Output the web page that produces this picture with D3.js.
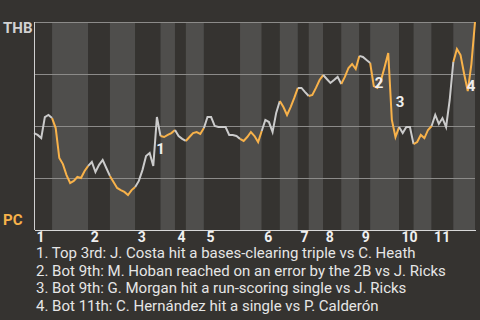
<!DOCTYPE html>
<html lang="en">
    <head>
        <meta charset="UTF-8">
        <title>THB vs PC - win probability</title>
        <script type="text/javascript" src="https://cdn.jsdelivr.net/npm/d3@7"></script>
        <style>
            html, body { margin: 0; padding: 0; background: #353330; }
            svg { display: block; }
        </style>
    </head>
    <body>
        <div id="chart"></div>
        <script type="text/javascript">
            // teams: top of chart, bottom of chart
            var TEAMS = ['THB', 'PC'];
            var INNINGS = ['1', '2', '3', '4', '5', '6', '7', '8', '9', '10', '11'];

            // plays in each half inning (top 1, bot 1, top 2, ...)
            var PLAYS_PER_HALF = [5, 10, 6, 7, 7, 4, 3, 5, 10, 6, 5, 5, 3, 4, 5, 5, 3, 8, 4, 5, 6, 6];

            // THB win probability (%) after each play
            var WIN_PROB = [
                46.6, 45.7, 44.2, 54.3, 55.3, 53.8, 49.0, 34.6, 31.7, 26.4,
                22.6, 23.6, 25.5, 25.0, 28.4, 30.8, 32.7, 27.9, 31.3, 33.7,
                29.8, 26.0, 23.1, 20.2, 19.2, 18.3, 16.8, 19.2, 20.7, 23.6,
                28.8, 35.6, 37.0, 30.8, 54.3, 45.2, 44.7, 45.7, 46.6, 48.1,
                45.2, 43.8, 42.8, 44.7, 46.6, 47.1, 46.2, 49.0, 54.3, 54.3,
                50.0, 49.5, 49.5, 49.5, 45.7, 45.7, 45.2, 43.8, 42.8, 44.7,
                47.1, 45.2, 42.3, 47.6, 52.9, 51.9, 47.1, 56.3, 62.0, 59.1,
                55.3, 59.1, 63.5, 68.3, 68.3, 66.3, 64.4, 64.9, 68.3, 72.1,
                74.5, 72.6, 70.7, 72.1, 73.6, 70.2, 73.6, 77.9, 79.8, 77.4,
                83.7, 83.2, 81.7, 80.3, 69.2, 68.3, 72.1, 78.4, 85.1, 52.9,
                44.7, 49.5, 46.6, 49.5, 49.5, 41.3, 42.3, 45.7, 44.2, 48.1,
                50.0, 55.3, 51.0, 53.8, 49.5, 62.5, 80.8, 87.0, 84.1, 75.0,
                66.8, 79.8, 100
            ];

            var GRID_TICKS = [25, 50, 75, 100];

            // key plays: play index and number shown on the chart
            var KEY_PLAYS = [33, 94, 99, 120];
            var KEY_LABELS = ['1', '2', '3', '4'];
            var KEY_TEXT = [
                '1. Top 3rd: J. Costa hit a bases-clearing triple vs C. Heath',
                '2. Bot 9th: M. Hoban reached on an error by the 2B vs J. Ricks',
                '3. Bot 9th: G. Morgan hit a run-scoring single vs J. Ricks',
                '4. Bot 11th: C. Hern\u00e1ndez hit a single vs P. Calder\u00f3n'
            ];

            var WIDTH = 480;
            var HEIGHT = 320;
            var GRAY = '#cbcbcb';
            var ORANGE = '#f8b24a';

            var svg = d3.select('#chart').append('svg')
                .attr('width', WIDTH)
                .attr('height', HEIGHT);

            svg.append('rect')
                .attr('width', WIDTH)
                .attr('height', HEIGHT)
                .attr('fill', '#353330');

            var x = d3.scaleLinear()
                .domain([0, WIN_PROB.length - 1])
                .range([34, 475]);

            var y = d3.scaleLinear()
                .domain([0, 100])
                .range([230, 22]);

            // half inning start / end play indexes
            var ends = Array.from(d3.cumsum(PLAYS_PER_HALF));
            var halves = PLAYS_PER_HALF.map(function (n, i) {
                return { i: i, start: i === 0 ? 0 : ends[i - 1], end: ends[i] };
            });

            // background bands
            svg.append('g').selectAll('rect')
                .data(halves)
                .join('rect')
                .attr('x', function (d) { return x(d.start); })
                .attr('width', function (d) { return x(d.end) - x(d.start); })
                .attr('y', y(100))
                .attr('height', y(0) - y(100))
                .attr('fill', function (d) { return d.i % 2 ? '#4f4e4c' : '#353330'; });

            // grid lines
            svg.append('g')
                .attr('transform', 'translate(' + x(0) + ',0)')
                .call(d3.axisRight(y).tickValues(GRID_TICKS).tickSize(x.range()[1] - x.range()[0]).tickFormat(''))
                .call(function (g) {
                    g.select('.domain').remove();
                    g.selectAll('line').attr('stroke', '#8c8b89').attr('stroke-width', 1)
                        .attr('shape-rendering', 'crispEdges');
                });

            // win probability line, one piece per half inning
            var line = d3.line()
                .x(function (d) { return x(d.i); })
                .y(function (d) { return y(d.v); });

            svg.append('g').selectAll('path')
                .data(halves)
                .join('path')
                .attr('d', function (h) {
                    var pts = [];
                    for (var k = h.start; k <= h.end; k++) {
                        pts.push({ i: k, v: WIN_PROB[k] });
                    }
                    return line(pts);
                })
                .attr('fill', 'none')
                .attr('stroke', function (h) { return h.i % 2 ? ORANGE : GRAY; })
                .attr('stroke-width', 2)
                .attr('stroke-linejoin', 'miter');

            // left axis
            svg.append('line')
                .attr('x1', x(0)).attr('x2', x(0))
                .attr('y1', y(100)).attr('y2', y(0))
                .attr('stroke', '#d0d0d0')
                .attr('shape-rendering', 'crispEdges');

            // inning axis
            var inningStarts = halves.filter(function (d) { return d.i % 2 === 0; })
                .map(function (d) { return d.start; });

            svg.append('g')
                .attr('transform', 'translate(0,' + y(0) + ')')
                .call(d3.axisBottom(x).tickValues(inningStarts).tickSize(0)
                    .tickFormat(function (d, i) { return INNINGS[i]; }))
                .call(function (g) {
                    g.select('.domain').attr('stroke', '#d8d8d8').attr('shape-rendering', 'crispEdges');
                    g.selectAll('text')
                        .attr('text-anchor', 'start')
                        .attr('x', 2)
                        .attr('y', 12)
                        .attr('dy', null)
                        .attr('fill', '#f0f0f0')
                        .style('font', 'bold 14px Roboto');
                });

            // key play numbers
            var LABEL_OFFSETS = [[3, -12], [1, 2], [4, -13], [-1, 0]];
            svg.append('g').selectAll('text')
                .data(KEY_PLAYS)
                .join('text')
                .attr('x', function (d, i) { return x(d) + LABEL_OFFSETS[i][0]; })
                .attr('y', function (d, i) { return y(WIN_PROB[d]) + LABEL_OFFSETS[i][1]; })
                .attr('fill', '#eeeeee')
                .style('font', 'bold 15px Roboto')
                .text(function (d, i) { return KEY_LABELS[i]; });

            // team names
            svg.append('text')
                .attr('x', 3).attr('y', 33)
                .attr('fill', '#d2d2d2')
                .style('font', 'bold 15px Roboto')
                .text(TEAMS[0]);

            svg.append('text')
                .attr('x', 3).attr('y', 225)
                .attr('fill', ORANGE)
                .style('font', 'bold 15px Roboto')
                .text(TEAMS[1]);

            // key play descriptions
            svg.append('g').selectAll('text')
                .data(KEY_TEXT)
                .join('text')
                .attr('x', 36)
                .attr('y', function (d, i) { return 258 + i * 17.5; })
                .attr('fill', '#e6e6e6')
                .style('font', '15px Roboto')
                .text(function (d) { return d; });
        </script>
    </body>
</html>
